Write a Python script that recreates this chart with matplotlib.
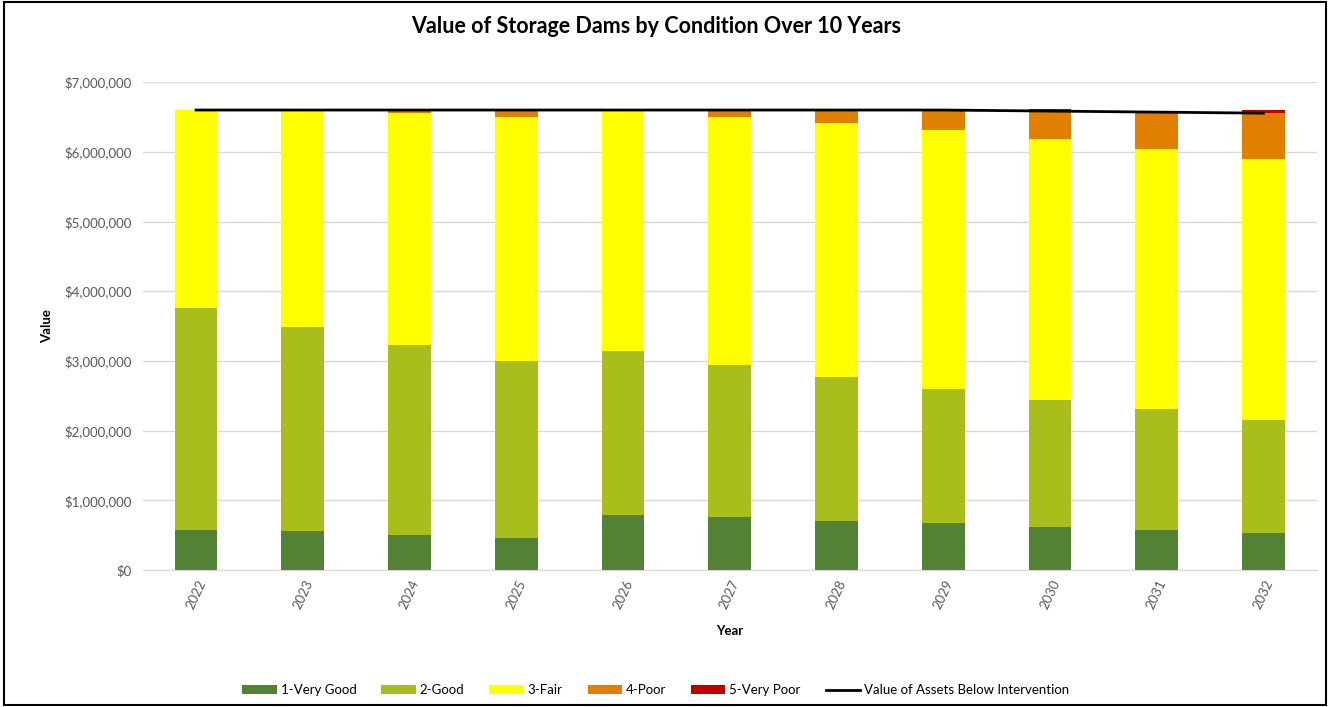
import matplotlib
matplotlib.use("Agg")
import matplotlib.pyplot as plt
from matplotlib.ticker import FuncFormatter
from matplotlib.patches import Rectangle
import numpy as np

plt.rcParams['font.family'] = ['Lato', 'DejaVu Sans']

# ---- data (values in $) ----
years = ['2022', '2023', '2024', '2025', '2026', '2027', '2028', '2029', '2030', '2031', '2032']
very_good = [580000, 560000, 500000, 460000, 790000, 760000, 700000, 670000, 620000, 570000, 530000]
good = [3180000, 2930000, 2730000, 2540000, 2350000, 2180000, 2070000, 1930000, 1820000, 1740000, 1620000]
fair = [2840000, 3110000, 3330000, 3500000, 3460000, 3560000, 3640000, 3710000, 3740000, 3730000, 3750000]
poor = [0, 0, 40000, 100000, 0, 100000, 190000, 290000, 390000, 530000, 660000]
very_poor = [0, 0, 0, 0, 0, 0, 0, 0, 40000, 0, 40000]
below_intervention = [6600000, 6600000, 6600000, 6600000, 6600000, 6600000, 6600000, 6600000,
                      6585000, 6570000, 6555000]

series = [('1-Very Good', very_good, '#548235'),
          ('2-Good', good, '#a9be1b'),
          ('3-Fair', fair, '#ffff00'),
          ('4-Poor', poor, '#e07f00'),
          ('5-Very Poor', very_poor, '#c00000')]

fig = plt.figure(figsize=(13.3, 7.07), dpi=100)
ax = fig.add_axes([0.1073, 0.1938, 0.8827, 0.690])

x = np.arange(len(years))
bottom = np.zeros(len(years))
handles = []
for name, vals, col in series:
    b = ax.bar(x, vals, width=0.4, bottom=bottom, color=col, label=name, zorder=3)
    handles.append(b)
    bottom += np.array(vals)

ln, = ax.plot(x, below_intervention, color='black', lw=2, label='Value of Assets Below Intervention', zorder=4)
handles.append(ln)

ax.set_xlim(-0.5, len(years) - 0.5)
ax.set_ylim(0, 7000000)
ax.set_yticks(np.arange(0, 7000001, 1000000))
ax.yaxis.set_major_formatter(FuncFormatter(lambda v, p: '${:,.0f}'.format(v)))
ax.set_xticks(x)
ax.set_xticklabels(years, rotation=65, ha='center', va='top')
ax.grid(axis='y', color='#d9d9d9', lw=1, zorder=0)
for s in ['top', 'right', 'left']:
    ax.spines[s].set_visible(False)
ax.spines['bottom'].set_color('#d9d9d9')
ax.tick_params(axis='both', length=0, labelsize=9.5, colors='#595959', pad=8)
ax.tick_params(axis='x', pad=6)

ax.set_ylabel('Value', fontsize=9.5, fontweight='bold', labelpad=8)
ax.set_xlabel('Year', fontsize=9.5, fontweight='bold', labelpad=10)

fig.suptitle('Value of Storage Dams by Condition Over 10 Years', fontsize=15.5, fontweight='bold',
             y=0.978, x=0.493)

fig.legend(handles=handles, labels=[h.get_label() for h in handles], loc='center',
           bbox_to_anchor=(0.493, 0.024), ncol=6, frameon=False, fontsize=9.5,
           handlelength=2.6, handleheight=0.6, columnspacing=1.9, handletextpad=0.3)

fig.add_artist(Rectangle((0.003, 0.003), 0.994, 0.994, transform=fig.transFigure,
                         fill=False, edgecolor='black', lw=1.5))

fig.savefig('out.png', dpi=100)
